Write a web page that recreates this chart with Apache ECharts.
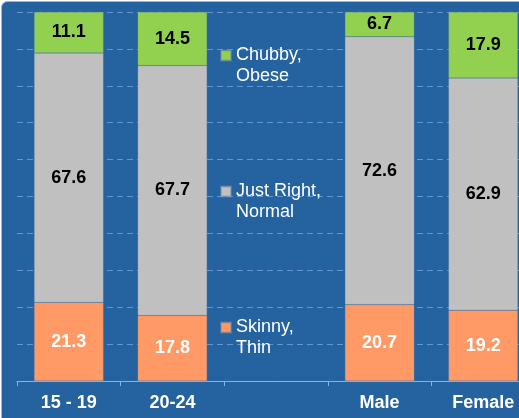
<!DOCTYPE html>
<html>
<head>
<meta charset="utf-8">
<script src="https://cdn.jsdelivr.net/npm/echarts@6/dist/echarts.min.js"></script>
<style>
html,body{margin:0;padding:0;background:#ffffff;overflow:hidden;width:519px;height:418px;}
#chart{width:535px;height:418px;}
</style>
</head>
<body>
<div id="chart"></div>
<script>
var categories = ['15 - 19', '20-24', '', 'Male', 'Female'];
var skinnyThin = [21.3, 17.8, '-', 20.7, 19.2];
var justRightNormal = [67.6, 67.7, '-', 72.6, 62.9];
var chubbyObese = [11.1, 14.5, '-', 6.7, 17.9];
var seriesNames = ['Skinny,\nThin', 'Just Right,\nNormal', 'Chubby,\nObese'];
var legendOrder = ['Chubby,\nObese', 'Just Right,\nNormal', 'Skinny,\nThin'];

var chart = echarts.init(document.getElementById('chart'), null, {renderer: 'canvas'});
var font = 'Liberation Sans, Arial, sans-serif';

function mkSeries(name, data, color, labelColor) {
  return {
    name: name,
    type: 'bar',
    stack: 'total',
    data: data,
    barCategoryGap: '33%',
    itemStyle: {color: color, borderColor: 'rgba(120,140,170,0.5)', borderWidth: 0.5},
    label: {
      show: true,
      position: 'inside',
      color: labelColor,
      fontFamily: font,
      fontWeight: 'bold',
      fontSize: 18
    }
  };
}

chart.setOption({
  animation: false,
  backgroundColor: 'transparent',
  graphic: [{
    type: 'rect',
    z: -10,
    silent: true,
    shape: {x: 1.5, y: 1.5, width: 560, height: 460, r: 6},
    style: {fill: '#2563a0', stroke: '#9db6d4', lineWidth: 1}
  }],
  grid: {left: 17, right: 0, top: 12, bottom: 37, containLabel: false},
  legend: {
    orient: 'vertical',
    left: 220,
    top: 24,
    padding: 0,
    itemWidth: 10,
    itemHeight: 10,
    itemGap: 73,
    icon: 'rect',
    data: legendOrder,
    formatter: function (n) { return ' \n' + n; },
    textStyle: {
      color: '#ffffff',
      fontFamily: font,
      fontSize: 18,
      lineHeight: 21
    }
  },
  xAxis: {
    type: 'category',
    data: categories,
    axisLine: {lineStyle: {color: '#8fb0d8', width: 1}},
    axisTick: {show: true, length: 5, lineStyle: {color: '#8fb0d8'}},
    axisLabel: {
      color: '#ffffff',
      fontFamily: font,
      fontWeight: 'bold',
      fontSize: 18,
      margin: 13,
      interval: 0
    }
  },
  yAxis: {
    type: 'value',
    min: 0,
    max: 100,
    interval: 10,
    axisLabel: {show: false},
    axisLine: {show: false},
    axisTick: {show: false},
    splitLine: {lineStyle: {color: '#6396d0', type: [6, 4], width: 1}}
  },
  series: [
    mkSeries(seriesNames[0], skinnyThin, '#ff9966', '#ffffff'),
    mkSeries(seriesNames[1], justRightNormal, '#c0c0c0', '#000000'),
    mkSeries(seriesNames[2], chubbyObese, '#92d050', '#000000')
  ]
});
</script>
</body>
</html>
